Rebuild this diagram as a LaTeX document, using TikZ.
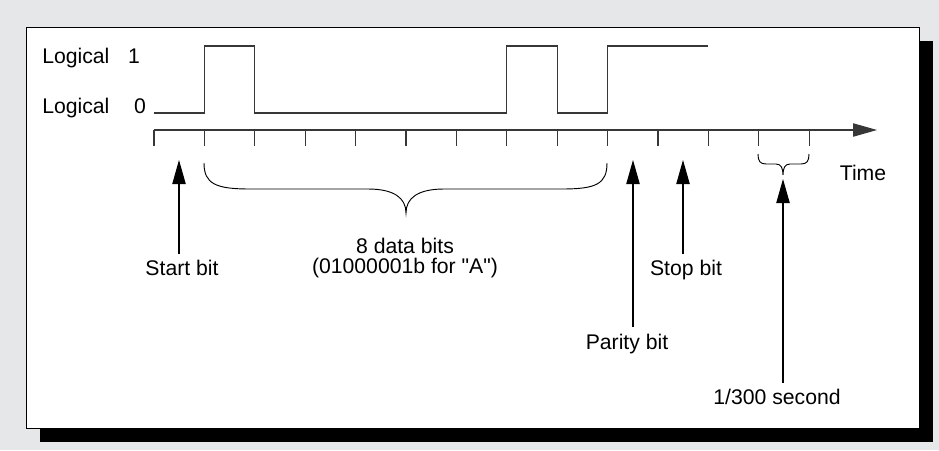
\documentclass[tikz,border=0pt]{standalone}
\usepackage{fontspec}
\setmainfont{Liberation Sans}
\usetikzlibrary{arrows.meta}
\definecolor{bggray}{RGB}{230,231,232}
\definecolor{sig}{RGB}{55,55,55}
\begin{document}
\begin{tikzpicture}[x=0.75pt,y=-0.75pt,
  lbl/.style={font=\fontsize{15.9}{15}\selectfont, inner sep=0pt, anchor=base},
  sigline/.style={draw=sig, line width=0.8pt},
  tickline/.style={draw=sig, line width=0.8pt},
  uparrow/.style={draw=black, line width=0.8pt, -{Triangle[length=18pt,width=10pt]}},
  bracestyle/.style={draw=black, line width=0.7pt}]
\fill[bggray] (0,0) rectangle (939,450);
\useasboundingbox (0,0) rectangle (939,450);
% shadow and frame
\fill[black] (40,41) rectangle (933,442);
\filldraw[fill=white, draw=black, line width=0.75pt] (26,27) rectangle (919,428);
% ticks and time axis
\foreach \k in {0,...,13} \draw[tickline] ({154+50.4*\k},130) -- ++(0,16);
\coordinate (axisL) at (154,130);
\coordinate (axisR) at (877,130);
\draw[tickline, -{Triangle[length=18pt,width=10pt]}] (axisL) -- (axisR);
% signal
\draw[sigline] (154,113) -- (204.4,113) -- (204.4,46) -- (254.8,46) -- (254.8,113)
  -- (506.8,113) -- (506.8,46) -- (557.2,46) -- (557.2,113) -- (607.6,113)
  -- (607.6,46) -- (708,46);
% level labels
\node[lbl, anchor=base west] (l1) at (42,63) {Logical};
\node[lbl] (one) at (134,63) {1};
\node[lbl, anchor=base west] (l0) at (42,113) {Logical};
\node[lbl] (zero) at (140,113) {0};
\node[lbl] (time) at (863,180) {Time};
% big brace
\draw[bracestyle] (204,163) .. controls (204,184) and (216,189) .. (250,189) -- (368,189)
  .. controls (394,189) and (406,198) .. (406,213)
  .. controls (406,198) and (418,189) .. (444,189) -- (562,189)
  .. controls (596,189) and (607,184) .. (607,163);
% small brace
\draw[bracestyle] (758,154) .. controls (758,161) and (760,164) .. (766,164) -- (776,164)
  .. controls (781,164) and (783,168) .. (783,175)
  .. controls (783,168) and (785,164) .. (790,164) -- (801,164)
  .. controls (807,164) and (809,161) .. (809,154);
% labels
\node[lbl] (start) at (182,275) {Start bit};
\node[lbl] (stop) at (686,275) {Stop bit};
\node[lbl] (parity) at (627,349) {Parity bit};
\node[lbl] (sec) at (777,404) {1/300 second};
\node[lbl] (data1) at (405,253) {8 data bits};
\node[lbl] (data2) at (405,273) {(01000001b for \textquotedbl A\textquotedbl)};
% arrows
\coordinate (startTip) at (179,160); \coordinate (startBot) at (179,254);
\coordinate (parTip) at (633,160);   \coordinate (parBot) at (633,327);
\coordinate (stopTip) at (683,160);  \coordinate (stopBot) at (683,254);
\coordinate (secTip) at (783,179);   \coordinate (secBot) at (783,383);
\draw[uparrow] (startBot) -- (startTip);
\draw[uparrow] (parBot) -- (parTip);
\draw[uparrow] (stopBot) -- (stopTip);
\draw[uparrow] (secBot) -- (secTip);
\end{tikzpicture}
\end{document}
